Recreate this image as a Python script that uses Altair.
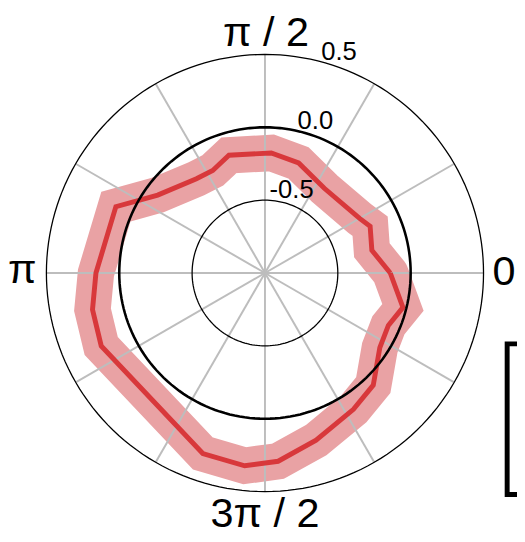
import altair as alt
import pandas as pd
import numpy as np

# ---- data ----
angles_deg = [0, 12, 24, 30, 55, 73, 87, 107, 117, 126, 144, 156, 180, 192,
              204, 251, 264, 274, 287, 303, 314, 327, 337, 346]
values = [-0.14, -0.25, -0.21, -0.25, -0.29, -0.21, -0.175, -0.155, -0.21,
          -0.20, -0.09, 0.12, 0.16, 0.21, 0.23, 0.31, 0.33, 0.295, 0.20,
          0.115, 0.07, -0.06, -0.08, -0.024]
r_ticks = [-0.5, 0.0, 0.5]
r_tick_labels = ["-0.5", "0.0", "0.5"]
theta_ticks_deg = [0, 90, 180, 270]
theta_labels = ["0", "π / 2", "π", "3π / 2"]
spoke_deg = list(range(0, 360, 30))
r_min, r_max = -1.0, 0.5

PX = 148.0  # pixels per radial unit
W, H = 506, 532
CX, CY = 253, 265  # center inside plot area (pixels)


def to_xy(theta_deg, v):
    t = np.deg2rad(np.asarray(theta_deg, dtype=float))
    rr = np.asarray(v, dtype=float) - r_min
    return rr * np.cos(t), rr * np.sin(t)


xs = alt.Scale(domain=[-CX / PX, (W - CX) / PX], nice=False, zero=False)
ys = alt.Scale(domain=[-(H - CY) / PX, CY / PX], nice=False, zero=False)
X = alt.X("x:Q", scale=xs, axis=None)
Y = alt.Y("y:Q", scale=ys, axis=None)

# series (closed)
sx, sy = to_xy(angles_deg + [angles_deg[0]], values + [values[0]])
series = pd.DataFrame({"x": sx, "y": sy, "i": range(len(sx))})

# grid circles
circ_rows = []
tt = np.arange(0, 361, 2)
for rv in r_ticks:
    cx_, cy_ = to_xy(tt, [rv] * len(tt))
    for k in range(len(tt)):
        circ_rows.append({"x": cx_[k], "y": cy_[k], "c": str(rv), "i": k})
circ = pd.DataFrame(circ_rows)
thin_circ = circ[circ["c"] != "0.0"]
zero_circ = circ[circ["c"] == "0.0"]

# spokes
ex, ey = to_xy(spoke_deg, [r_max] * len(spoke_deg))
spokes = pd.DataFrame({"x": 0.0, "y": 0.0, "x2": ex, "y2": ey})

# angular labels (anchored on the outer ring)
lx, ly = to_xy(theta_ticks_deg, [r_max] * 4)
alab = pd.DataFrame({"x": lx, "y": ly, "t": theta_labels})

# radial labels
rx, ry = to_xy([71] * 3, r_ticks)
rlab = pd.DataFrame({"x": rx, "y": ry, "t": r_tick_labels})

FONT = "Liberation Sans"

band = alt.Chart(series).mark_line(
    color="#e9a2a4", strokeWidth=37, strokeJoin="miter", strokeCap="round"
).encode(x=X, y=Y, order="i:Q")

spk = alt.Chart(spokes).mark_rule(color="#bdbdbd", strokeWidth=2).encode(
    x=X, y=Y, x2="x2:Q", y2="y2:Q")

thin = alt.Chart(thin_circ).mark_line(color="black", strokeWidth=1.3).encode(
    x=X, y=Y, detail="c:N", order="i:Q")

line = alt.Chart(series).mark_line(
    color="#d8383b", strokeWidth=5, strokeJoin="miter"
).encode(x=X, y=Y, order="i:Q")

zero = alt.Chart(zero_circ).mark_line(color="black", strokeWidth=2.6).encode(
    x=X, y=Y, order="i:Q")


def angle_text(idx, align, dx, dy):
    return alt.Chart(alab.iloc[[idx]]).mark_text(
        font=FONT, fontSize=42, align=align, baseline="alphabetic",
        dx=dx, dy=dy, color="black"
    ).encode(x=X, y=Y, text="t:N")


t0 = angle_text(0, "left", 9, 12)
t1 = angle_text(1, "center", 1, -9)
t2 = angle_text(2, "right", -10, 10)
t3 = angle_text(3, "center", 0, 36)

rtext = alt.Chart(rlab).mark_text(
    font=FONT, fontSize=26, align="center", baseline="alphabetic", dx=3, dy=-6,
    color="black"
).encode(x=X, y=Y, text="t:N")

box = alt.Chart(pd.DataFrame({"a": [0]})).mark_rect(
    filled=False, stroke="black", strokeWidth=5
).encode(x=alt.value(499), x2=alt.value(545), y=alt.value(337), y2=alt.value(490))

chart = alt.layer(band, spk, thin, line, zero, t0, t1, t2, t3, rtext, box).properties(
    width=W, height=H,
    autosize=alt.AutoSizeParams(type="none"),
    padding={"left": 8, "top": 0, "right": 3, "bottom": 0},
).configure_view(strokeWidth=0)

chart.save("out.html", embed_options={"renderer": "svg", "actions": False})
